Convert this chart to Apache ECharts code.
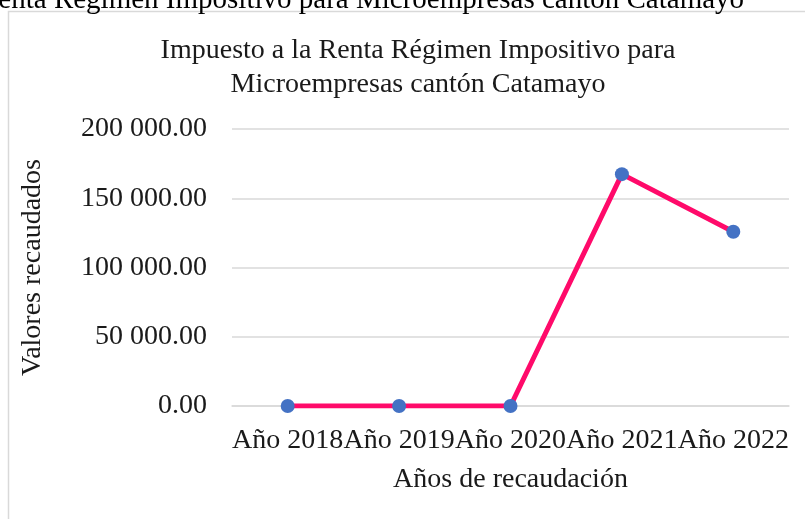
<!DOCTYPE html>
<html>
<head>
<meta charset="utf-8">
<script src="https://cdn.jsdelivr.net/npm/echarts@6/dist/echarts.min.js"></script>
<style>
  html, body { margin: 0; padding: 0; background: #fff; }
  #chart { width: 805px; height: 519px; }
</style>
</head>
<body>
<div id="chart"></div>
<script>
// categorias y valores recaudados
var anios = ['Año 2018', 'Año 2019', 'Año 2020', 'Año 2021', 'Año 2022'];
var valores = [0, 0, 0, 167400, 125800];
var yMin = 0, yMax = 200000, yStep = 50000;

var fuente = '"Liberation Serif", "DejaVu Serif", serif';

// formato 200 000.00
function fmt(v) {
  var s = v.toFixed(2).split('.');
  return s[0].replace(/\B(?=(\d{3})+(?!\d))/g, ' ') + '.' + s[1];
}

var chart = echarts.init(document.getElementById('chart'));
var option = {
  backgroundColor: '#fff',
  animation: false,
  title: {
    text: 'Impuesto a la Renta Régimen Impositivo para\nMicroempresas cantón Catamayo',
    left: 413,
    textAlign: 'center',
    top: 29,
    textStyle: {
      fontFamily: fuente,
      fontWeight: 'normal',
      fontSize: 28,
      color: '#1a1a1a',
      lineHeight: 34
    }
  },
  graphic: [
    { // texto cortado arriba
      type: 'text',
      left: -21,
      top: -14,
      z: 10,
      style: {
        text: 'Renta Régimen Impositivo para Microempresas cantón Catamayo',
        font: '29px ' + fuente,
        fill: '#000'
      }
    },
    { // marco del grafico
      type: 'rect',
      shape: { x: 8.5, y: 11.5, width: 900, height: 600 },
      style: { fill: 'none', stroke: '#d9d9d9', lineWidth: 1.5 },
      z: -1
    }
  ],
  grid: {
    left: 232,
    right: 16,
    top: 129,
    bottom: 113
  },
  xAxis: {
    type: 'category',
    data: anios,
    name: 'Años de recaudación',
    nameLocation: 'middle',
    nameGap: 60,
    nameTextStyle: { fontFamily: fuente, fontSize: 28, color: '#1a1a1a' },
    axisLine: { lineStyle: { color: '#d9d9d9', width: 1.5 } },
    axisTick: { show: false },
    axisLabel: {
      fontFamily: fuente,
      fontSize: 28,
      color: '#1a1a1a',
      margin: 21,
      interval: 0
    }
  },
  yAxis: {
    type: 'value',
    min: yMin,
    max: yMax,
    interval: yStep,
    name: 'Valores recaudados',
    nameLocation: 'middle',
    nameGap: 185,
    nameTextStyle: { fontFamily: fuente, fontSize: 28, color: '#1a1a1a' },
    axisLine: { show: false },
    axisTick: { show: false },
    axisLabel: {
      fontFamily: fuente,
      fontSize: 28,
      color: '#1a1a1a',
      margin: 25,
      formatter: fmt
    },
    splitLine: { lineStyle: { color: '#d9d9d9', width: 1.5 } }
  },
  series: [
    {
      type: 'line',
      data: valores,
      symbol: 'circle',
      symbolSize: 14,
      lineStyle: { color: '#ff0a6a', width: 5 },
      itemStyle: { color: '#4472c4' }
    }
  ]
};
chart.setOption(option);
</script>
</body>
</html>
